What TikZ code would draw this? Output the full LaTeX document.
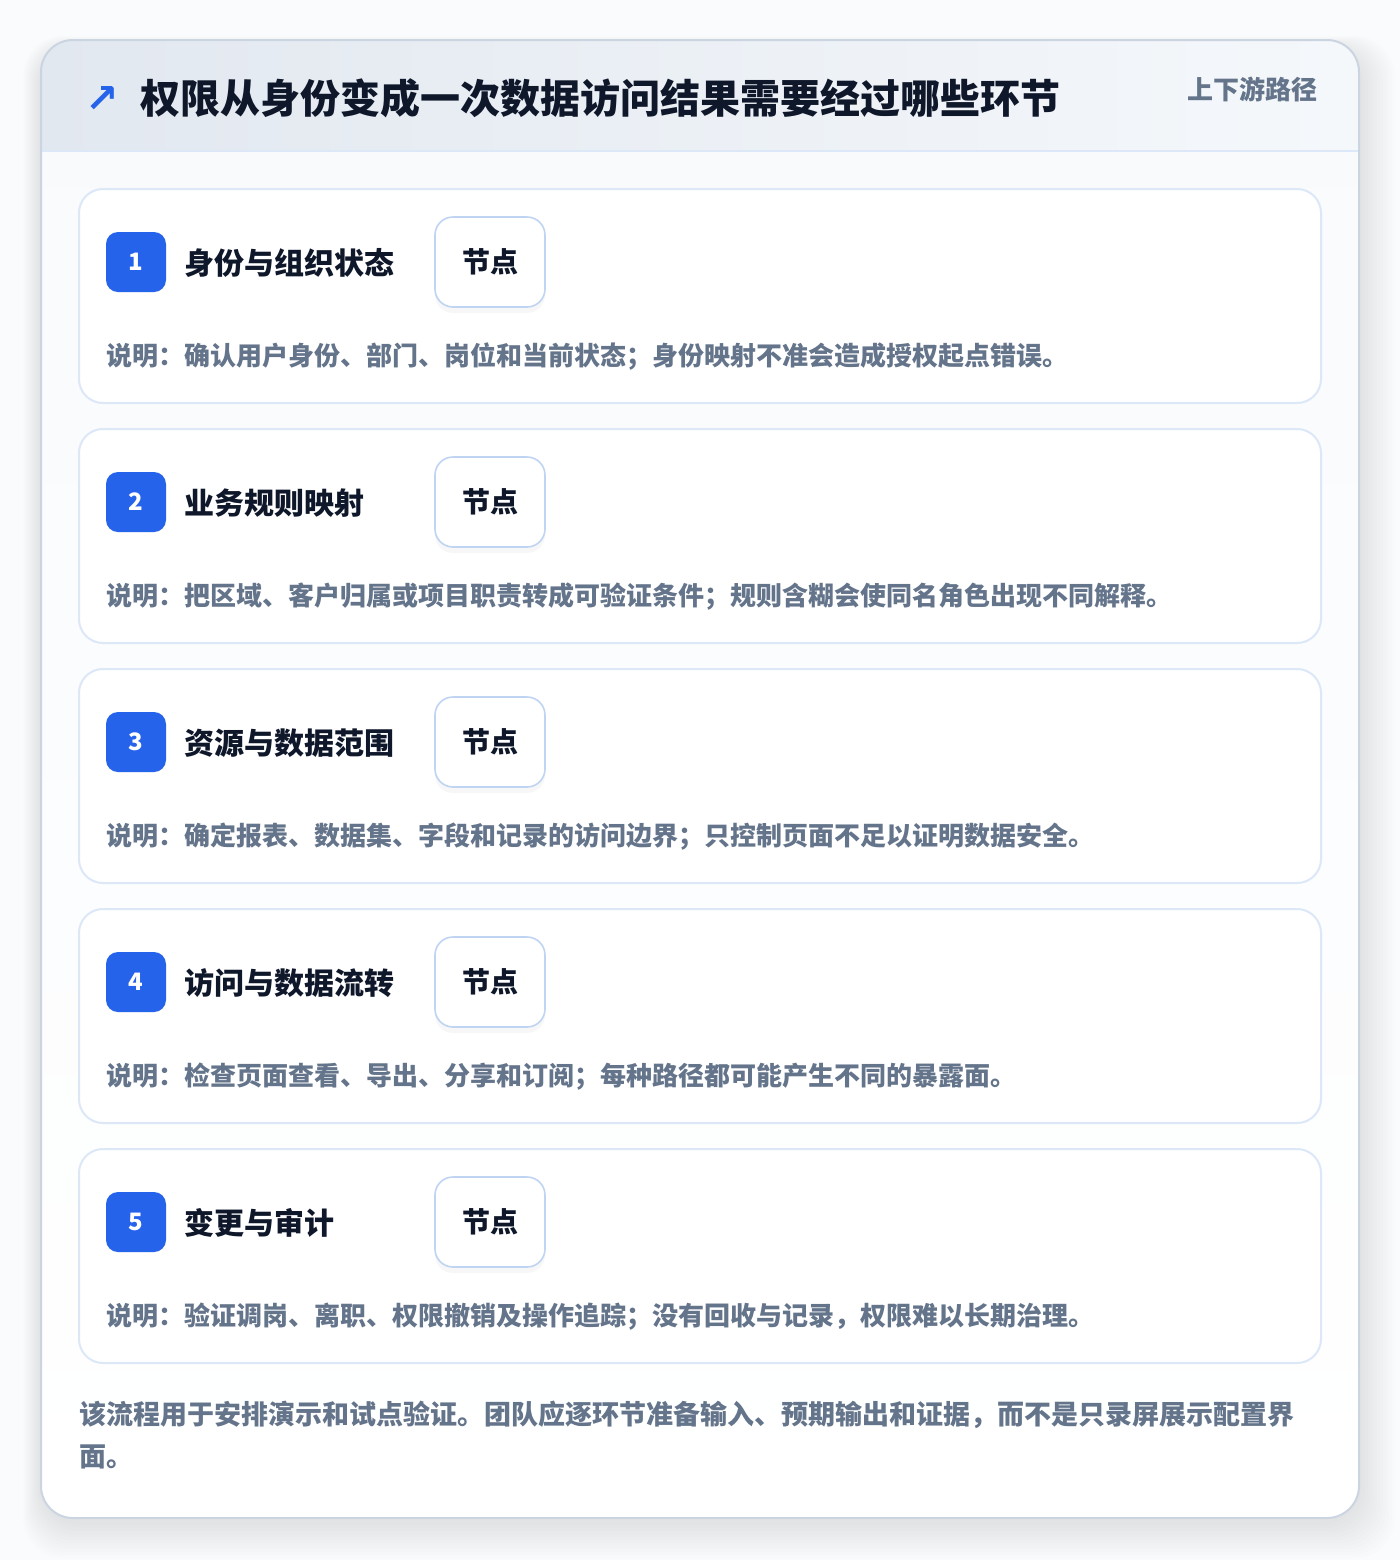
\documentclass[tikz,border=0pt]{standalone}
\usepackage{fontspec}
\setmainfont{Noto Sans CJK SC}
\newfontfamily\arrowfont{DejaVu Sans}
\usetikzlibrary{shadows}

\definecolor{ink}{HTML}{0F172A}
\definecolor{muted}{HTML}{64748B}
\definecolor{accent}{HTML}{2563EB}
\definecolor{stepline}{HTML}{DCE7F7}
\definecolor{tagline}{HTML}{BFD4F2}
\definecolor{cardline}{HTML}{CBD5E1}
\definecolor{headleft}{HTML}{E2E8F0}
\definecolor{headright}{HTML}{F5F8FB}
\definecolor{bodytop}{HTML}{F8FAFC}
\definecolor{pagebg}{HTML}{FAFBFC}

\tikzset{
  stepcard/.style={draw=stepline, line width=1pt, fill=white, rounded corners=12pt,
    minimum width=621pt, minimum height=107pt, inner sep=0pt},
  badge/.style={fill=accent, rounded corners=6pt, minimum size=30pt, inner sep=0pt,
    text=white, font=\bfseries\fontsize{12}{12}\selectfont},
  tag/.style={draw=tagline, line width=0.8pt, fill=white, rounded corners=9pt,
    minimum width=55pt, minimum height=45pt, inner sep=0pt, text=ink,
    font=\bfseries\fontsize{14}{14}\selectfont,
    drop shadow={opacity=0.06, shadow xshift=0pt, shadow yshift=-3pt}},
  steptitle/.style={anchor=west, inner sep=0pt, text=ink, font=\bfseries\fontsize{15}{15}\selectfont},
  note/.style={anchor=west, inner sep=0pt, text=muted, font=\bfseries\fontsize{13}{13}\selectfont},
  footnote/.style={anchor=west, inner sep=0pt, text=muted, font=\bfseries\fontsize{13.5}{13.5}\selectfont},
}

\begin{document}
\begin{tikzpicture}[x=0.5pt,y=-0.5pt]
	\useasboundingbox[fill=pagebg] (0,0) rectangle (1400,1560);
	% soft shadow under the panel
	\foreach \s in {3,6,...,36}
		\fill[black,opacity=0.007,rounded corners=20pt] (41-\s/2,48-\s/3) rectangle (1359+\s,1522+\s);
	% panel
	\fill[top color=bodytop,bottom color=white,rounded corners=16pt] (41,40) rectangle (1359,1518);
	\begin{scope}
		\clip[rounded corners=16pt] (41,40) rectangle (1359,1518);
		\fill[left color=headleft,right color=headright] (41,40) rectangle (1359,151);
	\end{scope}
	\draw[stepline,line width=1pt] (41,151) -- (1359,151);
	\draw[cardline,line width=1pt,rounded corners=16pt] (41,40) rectangle (1359,1518);
	% header
	\node[text=accent,inner sep=0pt,font=\arrowfont\bfseries\fontsize{20}{20}\selectfont] (icon) at (102,99) {↗};
	\node[anchor=west,inner sep=0pt,text=ink,font=\bfseries\fontsize{20}{20}\selectfont] (title) at (140,98) {权限从身份变成一次数据访问结果需要经过哪些环节};
	\node[anchor=east,inner sep=0pt,text=muted,font=\bfseries\fontsize{13}{13}\selectfont] (route) at (1318,89) {上下游路径};
	% step 1
	\node[stepcard] (card1) at (700,296) {};
	\node[badge] (num1) at (136,262) {1};
	\node[steptitle] (name1) at (184,263) {身份与组织状态};
	\node[tag] (tag1) at (490,262) {节点};
	\node[note] (note1) at (106,357) {说明：确认用户身份、部门、岗位和当前状态；身份映射不准会造成授权起点错误。};
	% step 2
	\node[stepcard] (card2) at (700,536) {};
	\node[badge] (num2) at (136,502) {2};
	\node[steptitle] (name2) at (184,503) {业务规则映射};
	\node[tag] (tag2) at (490,502) {节点};
	\node[note] (note2) at (106,597) {说明：把区域、客户归属或项目职责转成可验证条件；规则含糊会使同名角色出现不同解释。};
	% step 3
	\node[stepcard] (card3) at (700,776) {};
	\node[badge] (num3) at (136,742) {3};
	\node[steptitle] (name3) at (184,743) {资源与数据范围};
	\node[tag] (tag3) at (490,742) {节点};
	\node[note] (note3) at (106,837) {说明：确定报表、数据集、字段和记录的访问边界；只控制页面不足以证明数据安全。};
	% step 4
	\node[stepcard] (card4) at (700,1016) {};
	\node[badge] (num4) at (136,982) {4};
	\node[steptitle] (name4) at (184,983) {访问与数据流转};
	\node[tag] (tag4) at (490,982) {节点};
	\node[note] (note4) at (106,1077) {说明：检查页面查看、导出、分享和订阅；每种路径都可能产生不同的暴露面。};
	% step 5
	\node[stepcard] (card5) at (700,1256) {};
	\node[badge] (num5) at (136,1222) {5};
	\node[steptitle] (name5) at (184,1223) {变更与审计};
	\node[tag] (tag5) at (490,1222) {节点};
	\node[note] (note5) at (106,1317) {说明：验证调岗、离职、权限撤销及操作追踪；没有回收与记录，权限难以长期治理。};
	% footer
	\node[footnote] (foot) at (79,1415) {该流程用于安排演示和试点验证。团队应逐环节准备输入、预期输出和证据，而不是只录屏展示配置界};
	\node[footnote] (foot2) at (79,1457) {面。};
\end{tikzpicture}
\end{document}
